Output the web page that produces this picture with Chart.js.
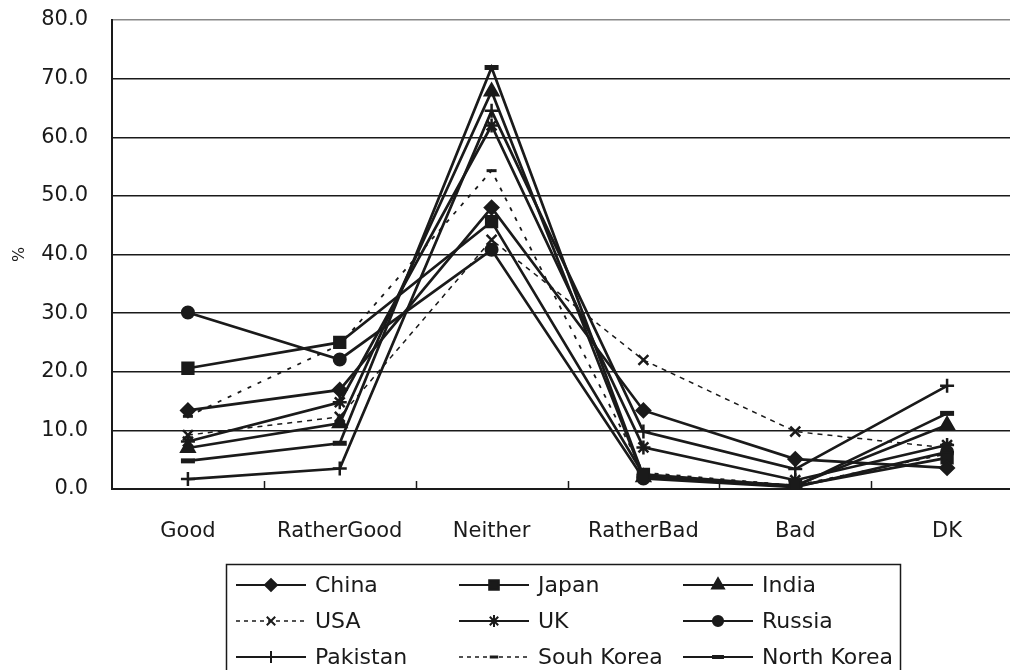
<!DOCTYPE html>
<html>
<head>
<meta charset="utf-8">
<script src="https://cdn.jsdelivr.net/npm/chart.js@4.4.1/dist/chart.umd.min.js"></script>
<style>
  html, body { margin: 0; padding: 0; background: #fff; overflow: hidden; }
  #wrap { position: relative; width: 1040px; height: 670px; }
</style>
</head>
<body>
<div id="wrap"><canvas id="chart1" width="1040" height="670"></canvas></div>
<script>
// categorias e valores (%)
const categories = ['Good', 'RatherGood', 'Neither', 'RatherBad', 'Bad', 'DK'];
const yTicks = [0, 10, 20, 30, 40, 50, 60, 70, 80];

const china      = [13.4, 16.9, 48.0, 13.4, 5.1, 3.6];
const japan      = [20.6, 25.0, 45.6, 2.5, 0.5, 5.3];
const india      = [7.0, 11.2, 67.8, 2.0, 0.6, 10.9];
const usa        = [9.2, 12.3, 42.5, 22.0, 9.8, 7.0];
const uk         = [8.1, 14.8, 62.0, 7.1, 1.5, 7.5];
const russia     = [30.1, 22.1, 40.8, 1.8, 0.3, 6.3];
const pakistan   = [1.7, 3.5, 64.5, 9.8, 3.4, 17.6];
const southKorea = [12.4, 24.6, 54.3, 2.8, 0.6, 6.0];
const northKorea = [4.8, 7.8, 71.9, 2.2, 0.4, 12.9];

const INK = '#1a1a1a';
const FONT = 'DejaVu Sans';

function serie(label, data, style, radius, opts) {
    return Object.assign({
        label: label,
        data: data,
        borderColor: INK,
        backgroundColor: INK,
        borderWidth: 2.7,
        pointStyle: style,
        pointRadius: radius,
        pointBackgroundColor: INK,
        pointBorderColor: INK,
        pointBorderWidth: 2,
        tension: 0
    }, opts || {});
}

const datasets = [
    serie('China', china, 'rectRot', 7),
    serie('Japan', japan, 'rect', 8),
    serie('India', india, 'triangle', 8),
    serie('USA', usa, 'crossRot', 7, { borderWidth: 1.5, borderDash: [5, 5], pointBorderWidth: 2.5 }),
    serie('UK', uk, 'star', 7, { pointBorderWidth: 2.5 }),
    serie('Russia', russia, 'circle', 6),
    serie('Pakistan', pakistan, 'cross', 7, { pointBorderWidth: 2.5 }),
    serie('Souh Korea', southKorea, 'line', 5, { borderWidth: 1.8, borderDash: [4, 7], pointBorderWidth: 3 }),
    serie('North Korea', northKorea, 'line', 7, { pointBorderWidth: 5 })
];

// pequenos ticks internos no eixo x
const innerTicks = {
    id: 'innerTicks',
    afterDraw(chart) {
        const ctx = chart.ctx, a = chart.chartArea;
        const step = (a.right - a.left) / categories.length;
        ctx.save();
        ctx.strokeStyle = INK;
        ctx.lineWidth = 1.5;
        for (let i = 1; i < categories.length; i++) {
            const x = Math.round(a.left + i * step) + 0.5;
            ctx.beginPath();
            ctx.moveTo(x, a.bottom);
            ctx.lineTo(x, a.bottom - 8);
            ctx.stroke();
        }
        ctx.restore();
    }
};

// legenda desenhada a mao (linha + marcador + tracejado)
const boxLegend = {
    id: 'boxLegend',
    afterDraw(chart) {
        const ctx = chart.ctx;
        const left = 226, top = 564, right = 900, bottom = 672;
        const cols = [236, 459, 683];
        const rows = [585, 621, 657];
        const sampleW = 70;
        ctx.save();
        ctx.strokeStyle = INK;
        ctx.lineWidth = 1.5;
        ctx.strokeRect(left + 0.5, top + 0.5, right - left, bottom - top);
        ctx.font = '22px "' + FONT + '"';
        ctx.textBaseline = 'middle';
        ctx.fillStyle = INK;
        chart.data.datasets.forEach((ds, i) => {
            const x = cols[i % 3], y = rows[Math.floor(i / 3)];
            ctx.save();
            ctx.lineWidth = ds.borderDash ? 1.5 : 2.2;
            ctx.setLineDash(ds.borderDash ? [4, 4] : []);
            ctx.beginPath();
            ctx.moveTo(x, y);
            ctx.lineTo(x + sampleW, y);
            ctx.stroke();
            ctx.restore();
            ctx.save();
            ctx.strokeStyle = INK;
            ctx.fillStyle = INK;
            const bw = ds.pointStyle === 'line' ? Math.min(ds.pointBorderWidth, 4) : 2;
            ctx.lineWidth = bw;
            Chart.helpers.drawPoint(ctx, {
                pointStyle: ds.pointStyle,
                rotation: 0,
                radius: ds.pointRadius * 0.85,
                borderWidth: bw
            }, x + sampleW / 2, y);
            ctx.restore();
            ctx.fillText(ds.label, x + sampleW + 9, y + 1);
        });
        ctx.restore();
    }
};

const ctx1 = document.getElementById('chart1').getContext('2d');
const chart1 = new Chart(ctx1, {
    type: 'line',
    data: { labels: categories, datasets: datasets },
    options: {
        responsive: false,
        animation: false,
        devicePixelRatio: 1,
        layout: { padding: { top: 20, right: 17, left: 0, bottom: 0 } },
        plugins: {
            legend: { display: false },
            tooltip: { enabled: false }
        },
        scales: {
            x: {
                offset: true,
                grid: { display: false, drawTicks: false },
                border: { color: INK, width: 2 },
                ticks: { color: INK, padding: 30, font: { family: FONT, size: 21 }, maxRotation: 0 },
                afterFit: s => { s.height = 181; s.paddingLeft = 0; s.paddingRight = 0; }
            },
            y: {
                min: 0,
                max: 80,
                afterBuildTicks: s => { s.ticks = yTicks.map(v => ({ value: v })); },
                grid: {
                    drawTicks: false,
                    lineWidth: 1.5,
                    color: c => (c.tick && c.tick.value === 80) ? '#888' : INK
                },
                border: { color: INK, width: 2 },
                ticks: {
                    color: INK,
                    padding: 24,
                    font: { family: FONT, size: 21 },
                    callback: v => Number(v).toFixed(1)
                },
                title: { display: true, text: '%', color: INK, font: { family: FONT, size: 16 }, padding: { top: 10, bottom: 0 } },
                afterFit: s => { s.width = 112; s.paddingTop = 0; s.paddingBottom = 0; }
            }
        }
    },
    plugins: [innerTicks, boxLegend]
});
</script>
</body>
</html>
